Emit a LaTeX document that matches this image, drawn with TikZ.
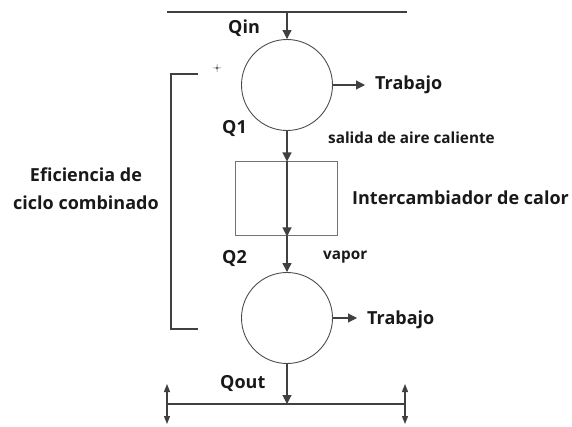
\documentclass[tikz,border=0pt]{standalone}
\usepackage{fontspec}
\setmainfont{Open Sans}
\usetikzlibrary{arrows.meta,calc}
\begin{document}
\begin{tikzpicture}[x=1pt,y=-1pt,
  line/.style={draw=black!75, line width=1.1pt},
  flow/.style={line, -{Triangle[length=9pt,width=9pt]}},
  dbl/.style={line, {Triangle[length=8pt,width=6pt]}-{Triangle[length=8pt,width=6pt]}},
  machine/.style={circle, draw=black!70, line width=0.9pt, minimum size=91pt, inner sep=0pt},
  hx/.style={rectangle, draw=black!55, line width=1pt, minimum width=102pt, minimum height=74pt, inner sep=0pt},
  lbl/.style={font=\fontsize{18}{20}\selectfont\bfseries, text=black!90, inner sep=0pt, anchor=base west},
  small/.style={font=\fontsize{15.3}{17}\selectfont\bfseries, text=black!90, inner sep=0pt, anchor=base west}]
\useasboundingbox (0,0) rectangle (572,427);
% top line
\coordinate (tl) at (167,12);
\coordinate (tr) at (407,12);
\coordinate (tin) at (287,12);
\draw[line, line width=1.6pt] (tl) -- (tr);
% machines and exchanger
\node[machine] (c1) at (287,85) {};
\node[hx] (hx) at (286,199) {};
\node[machine] (c2) at (287,318) {};
% bottom line
\coordinate (bl) at (167,404);
\coordinate (br) at (405,404);
\coordinate (bout) at (287,404);
\draw[line, line width=1.6pt] (bl) -- (br);
\coordinate (bl1) at (167,384); \coordinate (bl2) at (167,424);
\coordinate (br1) at (405,384); \coordinate (br2) at (405,424);
\draw[dbl] (bl1) -- (bl2);
\draw[dbl] (br1) -- (br2);
% flows
\draw[flow] (tin) -- (c1.north);
\draw[flow] (c1.south) -- (hx.north -| c1.south);
\draw[flow] (hx.north -| c1.south) -- (hx.south -| c1.south);
\draw[flow] (hx.south -| c1.south) -- (c2.north);
\draw[flow] (c2.south) -- (bout);
% work outputs
\coordinate (w1) at (365,85);
\coordinate (w2) at (357,318);
\draw[flow] (c1.east) -- (w1);
\draw[flow] (c2.east) -- (w2);
\node[lbl] (t1) at (375,90) {Trabajo};
\node[lbl] (t2) at (367,324) {Trabajo};
% labels
\node[lbl] (qin) at (228,34) {Qin};
\node[lbl] (q1) at (222,134) {Q1};
\node[lbl] (q2) at (222,264) {Q2};
\node[lbl] (qout) at (220,388) {Qout};
\node[small] (sal) at (328,144) {salida de aire caliente};
\node[small] (vap) at (323,260) {vapor};
\node[lbl] (ihx) at (352,205) {Intercambiador de calor};
\node[lbl, anchor=center, align=center, font=\fontsize{18}{28}\selectfont\bfseries] (ef) at (86,189) {Eficiencia de\\ciclo combinado};
% bracket
\coordinate (bt) at (198,74);
\coordinate (bb) at (198,329);
\draw[line, line width=1.1pt] (bt) -- ++(-27,0) |- (bb);
% small crosshair mark
\coordinate (cx) at (217,68);
\draw[black!60, line width=0.5pt] (cx) circle (1.3pt) ($(cx)+(-4,0)$) -- ++(8,0) ($(cx)+(0,-4)$) -- ++(0,8);
\end{tikzpicture}
\end{document}
